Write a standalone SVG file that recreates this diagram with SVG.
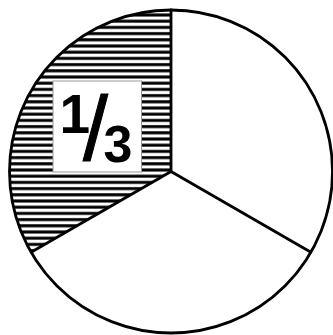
<svg xmlns="http://www.w3.org/2000/svg" width="333" height="335" viewBox="0 0 333 335">
<style>
.edge{fill:none;stroke:#000;stroke-width:2.8;stroke-linecap:round}
.lbl{font-family:"Liberation Sans",Arial,sans-serif;fill:#000}
</style>
<defs>
<pattern id="hatch" patternUnits="userSpaceOnUse" width="10" height="6.2">
<rect x="0" y="1.1" width="10" height="3" fill="#000"/>
</pattern>
</defs>
<rect width="333" height="335" fill="#fff"/>
<g id="sector-third">
<path d="M171,171.5 L171,10 A161.5,161.5 0 0 0 31.1,252.25 Z" fill="url(#hatch)"/>
</g>
<g id="connectors">
<circle class="edge" cx="171" cy="171.5" r="161.5"/>
<line class="edge" x1="171" y1="171.5" x2="171" y2="10"/>
<line class="edge" x1="171" y1="171.5" x2="310.9" y2="252.25"/>
<line class="edge" x1="171" y1="171.5" x2="31.1" y2="252.25"/>
</g>
<g id="label">
<rect x="53" y="81" width="88.5" height="91" fill="#fff" stroke="#999" stroke-width="1"/>
<text class="lbl" font-weight="bold"><tspan x="59.5" y="133" font-size="55">1</tspan><tspan x="83" y="160" font-size="90" font-weight="normal" stroke="#000" stroke-width="1">/</tspan><tspan x="103.5" y="161.5" font-size="52">3</tspan></text>
</g>
</svg>
